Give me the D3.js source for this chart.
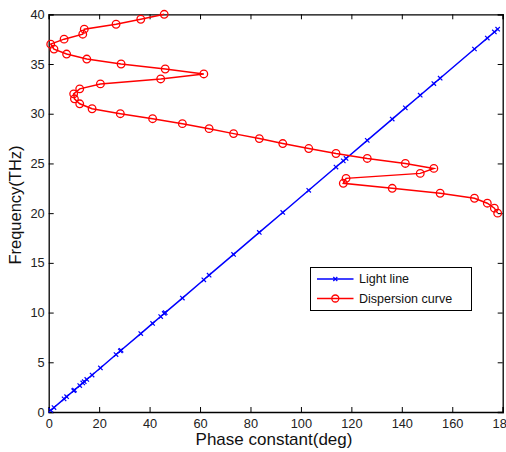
<!DOCTYPE html>
<html><head><meta charset="utf-8">
<script src="https://cdn.jsdelivr.net/npm/d3@7"></script>
<style>body{margin:0;background:#fff;} svg{display:block;font-family:Arial,"Liberation Sans",sans-serif;}</style>
</head><body>
<svg id="c" width="506" height="452"></svg>
<script>
// Dispersion curve (phase constant in deg, frequency in THz)
const dispBeta = [45.8,36.5,26.7,14.1,13.5,6.1,0.8,2.1,7.1,15.1,28.7,46.2,61.5,44.4,20.5,12.3,9.9,10.2,12.3,17.2,28.4,41.2,53.0,63.6,73.3,83.5,92.8,103.1,113.9,126.3,141.4,152.7,147.3,117.9,116.8,136.2,155.2,168.8,173.9,176.7,178.0];
const dispFreq = [40,39.5,39,38.5,38,37.5,37,36.5,36,35.5,35,34.5,34,33.5,33,32.5,32,31.5,31,30.5,30,29.5,29,28.5,28,27.5,27,26.5,26,25.5,25,24.5,24,23.5,23,22.5,22,21.5,21,20.5,20];
// Light line
const lightBeta = [0.8,2.1,6.1,7.1,9.9,10.2,12.3,13.5,14.1,15.1,17.2,20.5,26.7,28.4,28.7,36.5,41.2,44.4,45.8,46.2,53.0,61.5,63.6,73.3,83.5,92.8,103.1,113.9,116.8,117.9,126.3,136.2,141.4,147.3,152.7,155.2,168.8,173.9,176.7,178.0];
const lightFreq = [0.17,0.45,1.32,1.54,2.14,2.21,2.66,2.92,3.05,3.27,3.72,4.43,5.78,6.14,6.21,7.89,8.91,9.60,9.91,9.99,11.46,13.30,13.76,15.85,18.06,20.07,22.30,24.64,25.26,25.50,27.32,29.46,30.59,31.86,33.03,33.57,36.51,37.61,38.22,38.50];
const xTicks = [0,20,40,60,80,100,120,140,160,180];
const yTicks = [0,5,10,15,20,25,30,35,40];
const seriesNames = ["Light line","Dispersion curve"];

const svg = d3.select("#c");
const L=48.7, R=502.7, T=14.3, B=412;
const x = d3.scaleLinear().domain([0,180]).range([L,R]);
const y = d3.scaleLinear().domain([0,40]).range([B,T]);

// axes
const gx = svg.append("g").attr("transform",`translate(0,${B})`)
  .call(d3.axisBottom(x).tickValues(xTicks).tickSize(-5).tickPadding(4).tickFormat(d3.format("d")));
const gy = svg.append("g").attr("transform",`translate(${L},0)`)
  .call(d3.axisLeft(y).tickValues(yTicks).tickSize(-5).tickPadding(4).tickFormat(d3.format("d")));
const gt = svg.append("g").attr("transform",`translate(0,${T})`)
  .call(d3.axisTop(x).tickValues(xTicks).tickSize(-5).tickFormat(""));
const gr = svg.append("g").attr("transform",`translate(${R},0)`)
  .call(d3.axisRight(y).tickValues(yTicks).tickSize(-5).tickFormat(""));
[gx,gy,gt,gr].forEach(g=>{
  g.select(".domain").attr("stroke","#000").attr("stroke-width",1.3);
  g.selectAll(".tick line").attr("stroke","#000");
  g.selectAll(".tick text").attr("fill","#222").style("font-size","12.8px").style("font-family","Arial, 'Liberation Sans', sans-serif");
});
gx.selectAll(".tick text").attr("dy","0.9em");

// light line
const line = d3.line().x(d=>x(d[0])).y(d=>y(d[1]));
const lightData = lightBeta.map((b,i)=>[b,lightFreq[i]]);
svg.append("path").datum(lightData).attr("d",line).attr("fill","none").attr("stroke","#0000ff").attr("stroke-width",1.5);
const cross = (g,cx,cy,s)=>{
  g.append("path").attr("d",`M${cx-s},${cy-s}L${cx+s},${cy+s}M${cx-s},${cy+s}L${cx+s},${cy-s}`)
   .attr("stroke","#0000ff").attr("stroke-width",1.2).attr("fill","none");
};
const lg = svg.append("g");
lightData.forEach(d=>cross(lg,x(d[0]),y(d[1]),2.2));

// dispersion curve
const dispData = dispBeta.map((b,i)=>[b,dispFreq[i]]);
svg.append("path").datum(dispData).attr("d",line).attr("fill","none").attr("stroke","#ff0000").attr("stroke-width",1.5);
svg.append("g").selectAll("circle").data(dispData).join("circle")
  .attr("cx",d=>x(d[0])).attr("cy",d=>y(d[1])).attr("r",3.8)
  .attr("fill","none").attr("stroke","#ff0000").attr("stroke-width",1.3);

// legend
const leg = svg.append("g");
leg.append("rect").attr("x",310.5).attr("y",267.5).attr("width",161).attr("height",43)
  .attr("fill","#fff").attr("stroke","#000").attr("stroke-width",1);
const rows=[{y:279,c:"#0000ff"},{y:298.5,c:"#ff0000"}];
rows.forEach((r,i)=>{
  leg.append("line").attr("x1",317).attr("x2",353.5).attr("y1",r.y).attr("y2",r.y).attr("stroke",r.c).attr("stroke-width",1.5);
  if(i===0) cross(leg,335.3,r.y,2);
  else leg.append("circle").attr("cx",335.3).attr("cy",r.y).attr("r",3.5).attr("fill","none").attr("stroke",r.c).attr("stroke-width",1.3);
  leg.append("text").attr("x",359).attr("y",r.y).attr("dy","0.35em").attr("fill","#111")
    .style("font-size","12.5px").text(seriesNames[i]);
});

// axis titles
svg.append("text").attr("x",274).attr("y",445).attr("text-anchor","middle").attr("fill","#111")
  .style("font-size","17px").text("Phase constant(deg)");
svg.append("text").attr("transform","translate(21,205) rotate(-90)").attr("text-anchor","middle").attr("fill","#111")
  .style("font-size","16.5px").text("Frequency(THz)");
</script>
</body></html>
